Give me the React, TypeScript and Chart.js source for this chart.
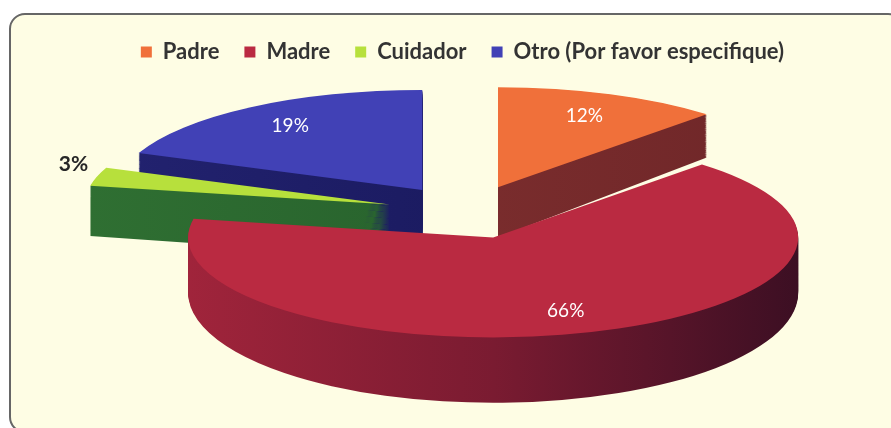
import React, { useEffect, useRef } from "react";
import { Chart, registerables } from "chart.js";

Chart.register(...registerables);

// ---- data ----
const categories = ["Padre", "Madre", "Cuidador", "Otro (Por favor especifique)"];
const values = [12, 66, 3, 19];

// ---- styles ----
const topColors = ["#F0703A", "#BA2A41", "#B7E03C", "#4141B6"];
const sideColors = [
  ["#843231", "#6E2628"],
  ["#A0243B", "#7A1B31", "#3C0F23"],
  ["#2F6F32", "#235A2A"],
  ["#22226F", "#151555"],
];

const RX = 305;
const RY = 100;
const DEPTH = 50;
const DEPTH_GROWTH = 0.002; // extra vertical stretch per layer (fake perspective)
const DEPTH_REF_Y = 183;
const CENTER_X = 468;
const CENTER_Y = 212;
const EXPLODE = 0.267;

const pie3d = {
  id: "pie3d",
  beforeDatasetsDraw(chart: any) {
    const meta = chart.getDatasetMeta(0);
    const arcs = meta.data as any[];
    if (!arcs.length) return false;
    const ctx: CanvasRenderingContext2D = chart.ctx;
    const r = arcs[0].outerRadius;
    const cx0 = arcs[0].x;
    const cy0 = arcs[0].y;
    const sx = RX / r;
    const sy = RY / r;
    const total = values.reduce((s, v) => s + v, 0);

    const items = arcs.map((a, i) => {
      const mid = (a.startAngle + a.endAngle) / 2;
      return { a, i, mid, ex: Math.cos(mid) * EXPLODE * r, ey: Math.sin(mid) * EXPLODE * r };
    });
    items.sort((p, q) => (p.ey + Math.sin(p.mid) * r * 0.5) - (q.ey + Math.sin(q.mid) * r * 0.5));

    const sector = (a: any, ex: number, ey: number) => {
      ctx.beginPath();
      ctx.moveTo(a.x + ex, a.y + ey);
      ctx.arc(a.x + ex, a.y + ey, a.outerRadius, a.startAngle, a.endAngle);
      ctx.closePath();
    };
    const layer = (d: number) => {
      ctx.translate(CENTER_X, DEPTH_REF_Y + d);
      ctx.scale(1, 1 + DEPTH_GROWTH * d);
      ctx.translate(0, CENTER_Y - DEPTH_REF_Y);
      ctx.scale(sx, sy);
      ctx.translate(-cx0, -cy0);
    };

    for (const it of items) {
      const { a, i, ex, ey } = it;
      const stops = sideColors[i];
      const g = ctx.createLinearGradient(a.x + ex - r, 0, a.x + ex + r, 0);
      stops.forEach((c, k) => g.addColorStop(k / (stops.length - 1), c));
      for (let d = DEPTH; d >= 1; d--) {
        ctx.save();
        layer(d);
        sector(a, ex, ey);
        ctx.fillStyle = g;
        ctx.fill();
        ctx.restore();
      }
      ctx.save();
      layer(0);
      sector(a, ex, ey);
      ctx.fillStyle = a.options.backgroundColor;
      ctx.fill();
      ctx.restore();
    }

    // labels
    for (const it of items) {
      const { a, i, mid, ex, ey } = it;
      const pct = Math.round((values[i] / total) * 100);
      const outside = pct < 5;
      const f = outside ? 1.08 : 0.77;
      const px = CENTER_X + (a.x - cx0 + ex + Math.cos(mid) * f * r) * sx;
      const py = CENTER_Y + (a.y - cy0 + ey + Math.sin(mid) * f * r) * sy;
      ctx.save();
      ctx.font = outside ? "bold 21px Lato" : "19px Lato";
      ctx.fillStyle = outside ? "#262626" : "#FFFFFF";
      ctx.textAlign = "center";
      ctx.textBaseline = outside ? "bottom" : "middle";
      ctx.fillText(pct + "%", px, py);
      ctx.restore();
    }
    return false;
  },
};

export default function App() {
  const ref = useRef<HTMLCanvasElement | null>(null);
  useEffect(() => {
    document.body.style.margin = "0";
    const chart = new Chart(ref.current as HTMLCanvasElement, {
      type: "pie",
      data: {
        labels: categories,
        datasets: [
          {
            data: values,
            backgroundColor: topColors,
            borderWidth: 0,
          },
        ],
      },
      options: {
        responsive: false,
        animation: false,
        layout: { padding: { top: 16, left: 34, right: 0, bottom: 10 } },
        plugins: {
          legend: {
            position: "top",
            labels: {
              boxWidth: 11,
              boxHeight: 11,
              padding: 25,
              color: "#333333",
              font: { family: "Lato", size: 22, weight: "bold" },
            },
          },
          tooltip: { enabled: false },
        },
      },
      plugins: [pie3d],
    });
    return () => chart.destroy();
  }, []);
  return (
    <div style={{ position: "relative", width: 891, height: 428, overflow: "hidden", background: "#fff" }}>
      <div
        style={{
          position: "absolute",
          left: 9,
          top: 13,
          width: 895,
          height: 420,
          boxSizing: "border-box",
          border: "2px solid #666",
          borderRadius: 16,
          background: "#FEFDE4",
        }}
      />
      <canvas ref={ref} width={891} height={428} style={{ position: "absolute", left: 0, top: 0 }} />
    </div>
  );
}
